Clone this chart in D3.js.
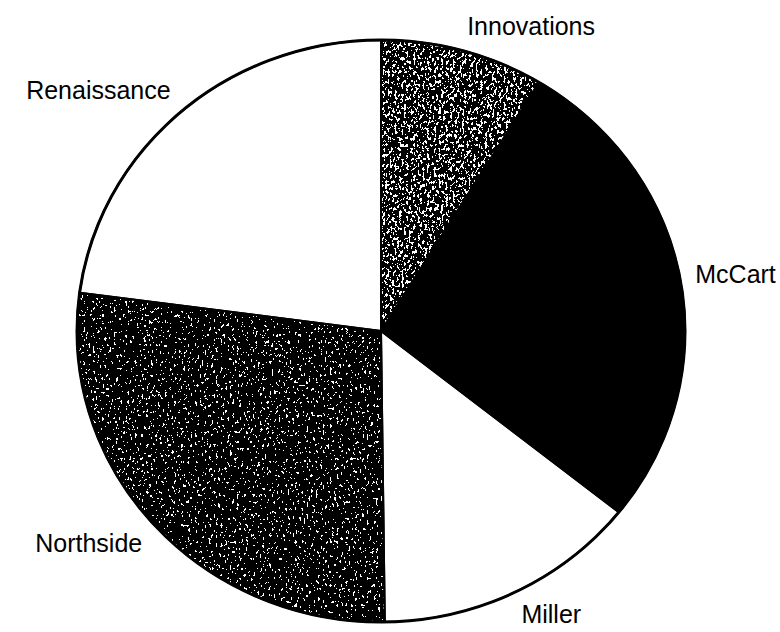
<!DOCTYPE html>
<html>
<head>
<meta charset="utf-8">
<script src="https://cdn.jsdelivr.net/npm/d3@7"></script>
<style>
  html, body { margin: 0; padding: 0; background: #fff; }
  svg { display: block; }
  text { font-family: "Liberation Sans", Arial, sans-serif; fill: #000; }
</style>
</head>
<body>
<svg id="chart" width="780" height="632"></svg>
<script>
// ---- data ----
const categories = ["Innovations", "McCart", "Miller", "Northside", "Renaissance"];
const values = [8.7, 27.0, 14.1, 27.3, 22.9];
const fills = ["speckleLight", "black", "white", "speckleDark", "white"];

// ---- layout ----
const W = 780, H = 632;
const cx = 381, cy = 331;
const R = 291;           // vertical radius
const sx = 304 / 291;    // horizontal stretch of the scanned ellipse
const fontSize = 25;

const svg = d3.select("#chart");
const defs = svg.append("defs");

function speckle(id, table, freq, seed) {
  const f = defs.append("filter").attr("id", id)
    .attr("x", "0").attr("y", "0").attr("width", "1").attr("height", "1")
    .attr("color-interpolation-filters", "sRGB");
  f.append("feTurbulence").attr("type", "fractalNoise")
    .attr("baseFrequency", freq).attr("numOctaves", 3).attr("seed", seed).attr("result", "n");
  f.append("feColorMatrix").attr("in", "n").attr("type", "matrix")
    .attr("values", "0 0 0 0 0  0 0 0 0 0  0 0 0 0 0  1 0 0 0 0").attr("result", "a");
  f.append("feComponentTransfer").attr("in", "a").attr("result", "th")
    .append("feFuncA").attr("type", "discrete").attr("tableValues", table);
  f.append("feComposite").attr("in", "th").attr("in2", "SourceGraphic").attr("operator", "in");
}
speckle("fLight", "0 0 0 0 0 1 1 1 1 1 1 1", "0.45 0.3", 4);
speckle("fDark", "0 0 0 0 1 1 1 1 1 1 1 1", "0.45 0.3", 9);

const pie = d3.pie().sort(null).value(d => d.v).startAngle(0).endAngle(2 * Math.PI);
const data = pie(categories.map((c, i) => ({ c, v: values[i], f: fills[i] })));
const arc = d3.arc().innerRadius(0).outerRadius(R);

const g = svg.append("g").attr("transform", `translate(${cx},${cy}) scale(${sx},1)`);

// base fills
g.selectAll("path.base").data(data).enter().append("path")
  .attr("class", "base")
  .attr("d", arc)
  .attr("fill", d => d.data.f === "black" ? "#000" : "#fff");

// speckle overlays
g.selectAll("path.tex").data(data.filter(d => d.data.f.startsWith("speckle"))).enter().append("path")
  .attr("class", "tex")
  .attr("d", arc)
  .attr("fill", "#000")
  .attr("filter", d => d.data.f === "speckleLight" ? "url(#fLight)" : "url(#fDark)");

// outlines
g.selectAll("path.edge").data(data).enter().append("path")
  .attr("class", "edge")
  .attr("d", arc)
  .attr("fill", "none")
  .attr("stroke", "#000")
  .attr("stroke-width", 2)
  .attr("stroke-linejoin", "round")
  .attr("vector-effect", "non-scaling-stroke");

g.append("ellipse").attr("cx", 0).attr("cy", 0).attr("rx", R).attr("ry", R)
  .attr("fill", "none").attr("stroke", "#000").attr("stroke-width", 3)
  .attr("vector-effect", "non-scaling-stroke");

// labels outside the ellipse, anchored by the corner facing the centre
const k = 1.05;
svg.selectAll("text.lbl").data(data).enter().append("text")
  .attr("class", "lbl")
  .attr("font-size", fontSize)
  .each(function (d) {
    const a = (d.startAngle + d.endAngle) / 2;
    const s = Math.sin(a), c = Math.cos(a);
    const x = cx + s * R * sx * k;
    const y = cy - c * R * k;
    const anchor = s > 0.1 ? "start" : (s < -0.1 ? "end" : "middle");
    let by;
    if (c > 0.3) by = y - 2;                      // label above: bottom at point
    else if (c < -0.3) by = y + fontSize * 0.72;  // label below: top at point
    else by = y + fontSize * 0.36 - 4;            // side: vertically centred
    d3.select(this).attr("x", x).attr("y", by).attr("text-anchor", anchor).text(d.data.c);
  });
</script>
</body>
</html>
